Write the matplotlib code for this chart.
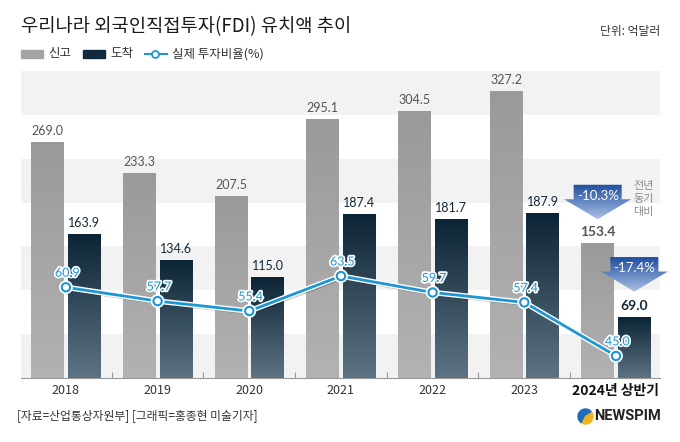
import numpy as np
import matplotlib
matplotlib.use('Agg')
import matplotlib.pyplot as plt
import matplotlib.colors as mcolors
import matplotlib.patheffects as pe
import matplotlib.transforms as mtransforms
from matplotlib.patches import Rectangle, Polygon, Wedge
from matplotlib.lines import Line2D

plt.rcParams['font.family'] = ['Noto Sans CJK KR', 'DejaVu Sans']

years = ['2018', '2019', '2020', '2021', '2022', '2023', '2024년 상반기']
declared = [269.0, 233.3, 207.5, 295.1, 304.5, 327.2, 153.4]   # 신고
arrived = [163.9, 134.6, 115.0, 187.4, 181.7, 187.9, 69.0]      # 도착
ratio = [60.9, 57.7, 55.4, 63.5, 59.7, 57.4, 45.0]              # 실제 투자비율(%)
changes = ['-10.3%', '-17.4%']
legend_labels = ['신고', '도착', '실제 투자비율(%)']

W, H = 680, 442
GREY = '#a4a4a4'
NAVY = '#0f2a3e'
BLUE = '#1d96d3'
NUM = ['Lato', 'DejaVu Sans']


def fx(x):
    return x / W


def fy(y):
    return 1 - y / H


def grad_img(top, bottom, n=64):
    c0 = np.array(mcolors.to_rgb(top))
    c1 = np.array(mcolors.to_rgb(bottom))
    t = np.linspace(0, 1, n)[:, None]
    return (c0 * (1 - t) + c1 * t)[:, None, :]


fig = plt.figure(figsize=(6.8, 4.42), dpi=100)
ax = fig.add_axes([fx(21), fy(378), 639 / W, 308 / H])

# background bands
for lo in (0, 100, 200, 300):
    ax.axhspan(lo, lo + 50, color='#f2f2f2', lw=0, zorder=0)

x = np.arange(len(years))
bw, off = 0.355, 0.2
b1 = ax.bar(x - off, declared, bw, color=GREY, zorder=2)
b2 = ax.bar(x + off, arrived, bw, color=NAVY, zorder=2)


def grad_fill(bars, top, bottom):
    img = grad_img(top, bottom)
    for b in bars:
        x0, w, h = b.get_x(), b.get_width(), b.get_height()
        im = ax.imshow(img, extent=[x0, x0 + w, 0, h], origin='upper',
                       aspect='auto', zorder=2.1, interpolation='bilinear')
        im.set_clip_path(b)


grad_fill(b1, '#9a9a9a', '#b2b2b2')
grad_fill(b2, '#0c2536', '#5d7383')

# value labels
for i, v in enumerate(declared):
    last = i == len(declared) - 1
    ax.text(i - off, v + 12.5, f'{v:.1f}', ha='center', va='center',
            fontsize=10 if last else 9, family=NUM, color='#555555',
            fontweight='bold' if last else 'normal', zorder=4)
for i, v in enumerate(arrived):
    last = i == len(arrived) - 1
    ax.text(i + off, v + 12.5, f'{v:.1f}', ha='center', va='center',
            fontsize=10 if last else 9, family=NUM, color='#152838',
            fontweight='bold' if last else 'normal', zorder=4)

# change arrows
def arrow(xd, yd, label, note=None):
    tr = fig.dpi_scale_trans + mtransforms.ScaledTranslation(xd, yd, ax.transData)
    verts = np.array([(0, 0), (33.5, 20), (24, 20), (24, 34.5),
                      (-24, 34.5), (-24, 20), (-33.5, 20)]) / 100
    poly = Polygon(verts, closed=True, transform=tr, fc='none', ec='none',
                   clip_on=False, zorder=5)
    ax.add_patch(poly)
    im = ax.imshow(grad_img('#1f4f9f', '#a9c0e4'),
                   extent=[-0.34, 0.34, 0, 0.345], origin='upper',
                   aspect='auto', transform=tr, zorder=5, interpolation='bilinear')
    im.set_clip_box(fig.bbox)
    im.set_clip_path(poly)
    ax.text(0, 0.235, label, transform=tr, ha='center', va='center',
            color='white', fontsize=9.5, family=NUM, zorder=6, clip_on=False)
    if note:
        ax.text(0.46, 0.20, note, transform=tr, ha='center', va='center',
                color='#8a8a8a', fontsize=8, linespacing=1.4, zorder=6,
                clip_on=False)


arrow(len(years) - 1 - off, declared[-1] + 27.5, changes[0], '전년\n동기\n대비')
arrow(len(years) - 1 + off, arrived[-1] + 29.5, changes[1])

ax.set_xlim(-0.49, 6.48)
ax.set_ylim(0, 351)
for s in ('top', 'right', 'left'):
    ax.spines[s].set_visible(False)
ax.spines['bottom'].set_color('#999999')
ax.spines['bottom'].set_linewidth(0.8)
ax.set_yticks([])
ax.set_xticks(x)
ax.set_xticklabels(years)
ax.set_xticks(np.arange(0.5, len(years) - 1, 1), minor=True)
ax.tick_params(axis='x', which='major', length=0, pad=4, labelsize=9,
               labelcolor='#333333')
ax.tick_params(axis='x', which='minor', direction='in', length=4,
               color='#999999', width=0.8)
lbl = ax.get_xticklabels()[-1]
lbl.set_fontweight('bold')
lbl.set_fontsize(10)
lbl.set_color('#111111')

# ratio line
ax2 = ax.twinx()
ax2.set_ylim(39.9, 111.2)
ax2.set_xlim(ax.get_xlim())
ax2.axis('off')
ax2.plot(x, ratio, color=BLUE, lw=2, marker='o', ms=6, mfc='white', mec=BLUE,
         mew=1.5, zorder=3,
         path_effects=[pe.SimpleLineShadow(offset=(1, -1.5), shadow_color='k', alpha=0.25),
                       pe.Stroke(linewidth=4, foreground='white'), pe.Normal()])
for i, v in enumerate(ratio):
    ax2.annotate(f'{v:.1f}', (i, v), xytext=(1, 10.5), textcoords='offset points',
                 ha='center', va='center', fontsize=9, family=NUM, color=BLUE,
                 path_effects=[pe.withStroke(linewidth=2.5, foreground='white')],
                 zorder=4)

# title, legend, notes
fig.text(fx(21), fy(27), '우리나라 외국인직접투자(FDI) 유치액 추이', fontsize=13.5,
         va='center', color='#1a1a1a')
fig.text(fx(660), fy(32), '단위: 억달러', fontsize=8.5, ha='right', va='center',
         color='#333333')

fig.add_artist(Rectangle((fx(21), fy(58)), 22 / W, 8 / H, color=GREY,
                         transform=fig.transFigure))
fig.text(fx(48), fy(54), legend_labels[0], fontsize=9, va='center', color='#333333')
fig.add_artist(Rectangle((fx(83), fy(58)), 22 / W, 8 / H, color=NAVY,
                         transform=fig.transFigure))
fig.text(fx(110), fy(54), legend_labels[1], fontsize=9, va='center', color='#333333')
fig.add_artist(Line2D([fx(145), fx(167)], [fy(54), fy(54)], color=BLUE, lw=1.5,
                      transform=fig.transFigure))
fig.add_artist(Line2D([fx(155)], [fy(54)], marker='o', ms=5, mfc='white', mec=BLUE,
                      mew=1.3, transform=fig.transFigure))
fig.text(fx(172), fy(54), legend_labels[2], fontsize=9, va='center', color='#333333')

fig.text(fx(17), fy(416), '[자료=산업통상자원부] [그래픽=홍종현 미술기자]',
         fontsize=8.5, va='center', color='#333333')

# logo
cx, cy = 585.5 / 100, (H - 416.5) / 100
fig.add_artist(Wedge((cx, cy), 0.075, 40, 235, color='#1f6db8',
                     transform=fig.dpi_scale_trans))
fig.add_artist(Wedge((cx, cy), 0.075, 245, 30, color='#f2b31b',
                     transform=fig.dpi_scale_trans))
fig.text(fx(594), fy(416.5), 'NEWSPIM', fontsize=10.5, fontweight='bold',
         family=['Roboto', 'DejaVu Sans'], va='center', color='#222222')

fig.savefig('out.png', dpi=100)
